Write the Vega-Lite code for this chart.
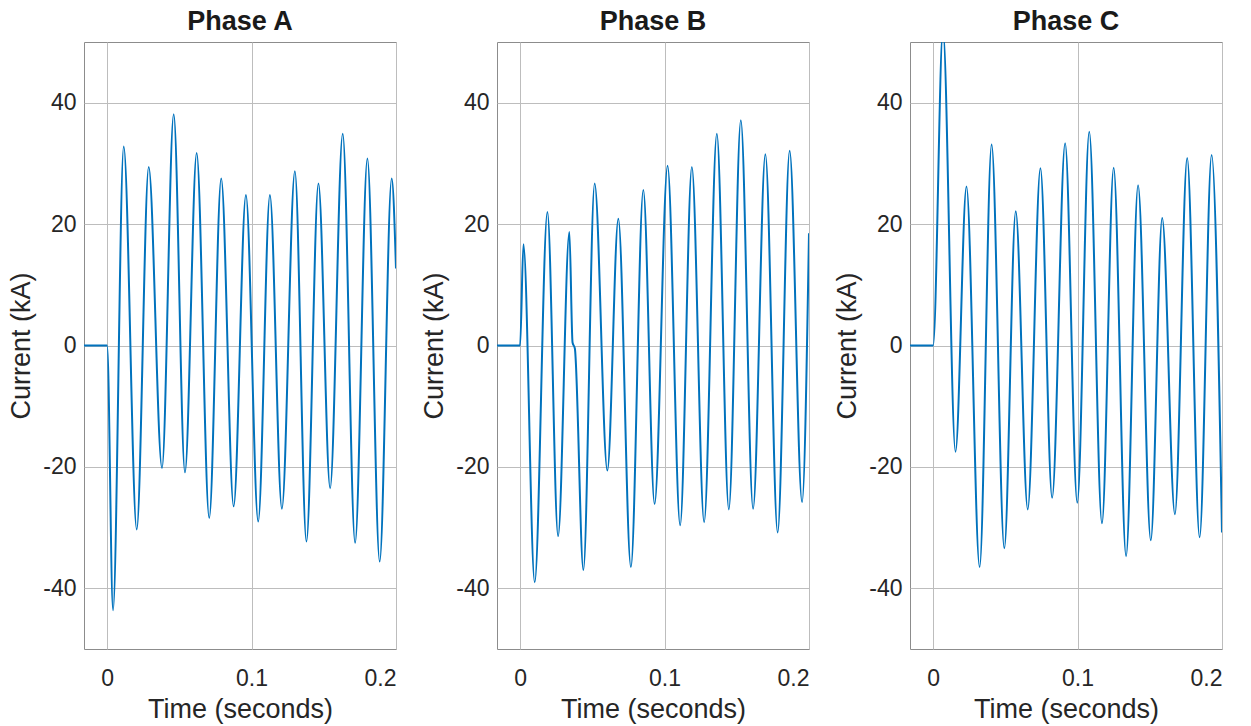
{
  "$schema": "https://vega.github.io/schema/vega-lite/v6.json",
  "background": "white",
  "padding": {"left": 7, "top": 7, "right": 10, "bottom": 5},
  "bounds": "flush",
  "spacing": 101,
  "config": {
    "font": "Liberation Sans",
    "view": {"stroke": "#8c8c8c", "strokeWidth": 1},
    "axis": {
      "grid": true, "gridColor": "#bdbdbd", "gridWidth": 1,
      "domain": false, "ticks": false,
      "labelFontSize": 23, "labelColor": "#262626", "labelFont": "Liberation Sans",
      "titleFontSize": 27, "titleColor": "#262626", "titleFont": "Liberation Sans", "titleFontWeight": "normal"
    },
    "title": {"fontSize": 27, "fontWeight": "bold", "color": "#1a1a1a", "font": "Liberation Sans", "anchor": "middle", "offset": 6}
  },
  "datasets": {
    "currents": [
      {"phase": "A", "t": -0.016, "i": 0}, {"phase": "A", "t": 0.0, "i": 0},
      {"phase": "A", "t": 0.0041, "i": -43.6}, {"phase": "A", "t": 0.0115, "i": 32.8},
      {"phase": "A", "t": 0.0205, "i": -30.3}, {"phase": "A", "t": 0.0288, "i": 29.4},
      {"phase": "A", "t": 0.038, "i": -20.2}, {"phase": "A", "t": 0.0461, "i": 38.1},
      {"phase": "A", "t": 0.0539, "i": -20.9}, {"phase": "A", "t": 0.062, "i": 31.7},
      {"phase": "A", "t": 0.0707, "i": -28.4}, {"phase": "A", "t": 0.079, "i": 27.5},
      {"phase": "A", "t": 0.0876, "i": -26.5}, {"phase": "A", "t": 0.0961, "i": 24.8},
      {"phase": "A", "t": 0.1046, "i": -29.0}, {"phase": "A", "t": 0.1127, "i": 24.8},
      {"phase": "A", "t": 0.121, "i": -26.9}, {"phase": "A", "t": 0.13, "i": 28.7},
      {"phase": "A", "t": 0.138, "i": -32.3}, {"phase": "A", "t": 0.1463, "i": 26.7},
      {"phase": "A", "t": 0.1544, "i": -23.5}, {"phase": "A", "t": 0.1631, "i": 34.9},
      {"phase": "A", "t": 0.1717, "i": -32.5}, {"phase": "A", "t": 0.1802, "i": 30.8},
      {"phase": "A", "t": 0.1887, "i": -35.6}, {"phase": "A", "t": 0.197, "i": 27.5},
      {"phase": "A", "t": 0.2, "i": 12.7},

      {"phase": "B", "t": -0.016, "i": 0}, {"phase": "B", "t": 0.0, "i": 0},
      {"phase": "B", "t": 0.0023, "i": 16.7}, {"phase": "B", "t": 0.0101, "i": -39.0},
      {"phase": "B", "t": 0.0189, "i": 22.0}, {"phase": "B", "t": 0.0263, "i": -31.4},
      {"phase": "B", "t": 0.0341, "i": 18.7}, {"phase": "B", "t": 0.0363, "i": 0.5},
      {"phase": "B", "t": 0.0379, "i": -0.5}, {"phase": "B", "t": 0.0438, "i": -37.0},
      {"phase": "B", "t": 0.0516, "i": 26.7}, {"phase": "B", "t": 0.0604, "i": -20.6},
      {"phase": "B", "t": 0.068, "i": 20.9}, {"phase": "B", "t": 0.0767, "i": -36.5},
      {"phase": "B", "t": 0.0853, "i": 25.6}, {"phase": "B", "t": 0.0931, "i": -26.1},
      {"phase": "B", "t": 0.1021, "i": 29.6}, {"phase": "B", "t": 0.1108, "i": -29.6},
      {"phase": "B", "t": 0.1189, "i": 29.4}, {"phase": "B", "t": 0.1274, "i": -29.1},
      {"phase": "B", "t": 0.1362, "i": 34.9}, {"phase": "B", "t": 0.1445, "i": -27.0},
      {"phase": "B", "t": 0.1528, "i": 37.1}, {"phase": "B", "t": 0.1613, "i": -26.9},
      {"phase": "B", "t": 0.1698, "i": 31.5}, {"phase": "B", "t": 0.1783, "i": -30.8},
      {"phase": "B", "t": 0.1866, "i": 32.1}, {"phase": "B", "t": 0.1952, "i": -25.8},
      {"phase": "B", "t": 0.2, "i": 18.5},

      {"phase": "C", "t": -0.016, "i": 0}, {"phase": "C", "t": 0.0, "i": 0},
      {"phase": "C", "t": 0.0068, "i": 52}, {"phase": "C", "t": 0.0155, "i": -17.5},
      {"phase": "C", "t": 0.0231, "i": 26.2}, {"phase": "C", "t": 0.0322, "i": -36.5},
      {"phase": "C", "t": 0.0405, "i": 33.1}, {"phase": "C", "t": 0.0493, "i": -33.4},
      {"phase": "C", "t": 0.0572, "i": 22.1}, {"phase": "C", "t": 0.0655, "i": -27.0},
      {"phase": "C", "t": 0.0743, "i": 29.2}, {"phase": "C", "t": 0.0824, "i": -25.1},
      {"phase": "C", "t": 0.0914, "i": 33.3}, {"phase": "C", "t": 0.0998, "i": -25.9},
      {"phase": "C", "t": 0.1081, "i": 35.2}, {"phase": "C", "t": 0.1169, "i": -29.3},
      {"phase": "C", "t": 0.125, "i": 29.3}, {"phase": "C", "t": 0.1336, "i": -34.7},
      {"phase": "C", "t": 0.1419, "i": 26.4}, {"phase": "C", "t": 0.1507, "i": -32.1},
      {"phase": "C", "t": 0.1586, "i": 21.0}, {"phase": "C", "t": 0.1674, "i": -27.8},
      {"phase": "C", "t": 0.1759, "i": 30.9}, {"phase": "C", "t": 0.1845, "i": -31.6},
      {"phase": "C", "t": 0.1928, "i": 31.4}, {"phase": "C", "t": 0.2, "i": -30.8}
    ]
  },
  "data": {"name": "currents"},
  "hconcat": [
    {
      "title": "Phase A",
      "width": 312, "height": 607,
      "transform": [{"filter": "datum.phase === 'A'"}],
      "mark": {"type": "line", "interpolate": "monotone", "color": "#0072BD", "strokeWidth": 2, "clip": true},
      "encoding": {
        "x": {"field": "t", "type": "quantitative", "title": "Time (seconds)",
              "scale": {"domain": [-0.016, 0.2], "nice": false, "zero": false},
              "axis": {"values": [0, 0.1, 0.2], "format": "~g", "labelPadding": 18, "titlePadding": 6}},
        "y": {"field": "i", "type": "quantitative", "title": "Current (kA)",
              "scale": {"domain": [-50, 50], "nice": false},
              "axis": {"values": [-40, -20, 0, 20, 40], "labelExpr": "'' + datum.value", "labelPadding": 8, "titlePadding": 7}}
      }
    },
    {
      "title": "Phase B",
      "width": 312, "height": 607,
      "transform": [{"filter": "datum.phase === 'B'"}],
      "mark": {"type": "line", "interpolate": "monotone", "color": "#0072BD", "strokeWidth": 2, "clip": true},
      "encoding": {
        "x": {"field": "t", "type": "quantitative", "title": "Time (seconds)",
              "scale": {"domain": [-0.016, 0.2], "nice": false, "zero": false},
              "axis": {"values": [0, 0.1, 0.2], "format": "~g", "labelPadding": 18, "titlePadding": 6}},
        "y": {"field": "i", "type": "quantitative", "title": "Current (kA)",
              "scale": {"domain": [-50, 50], "nice": false},
              "axis": {"values": [-40, -20, 0, 20, 40], "labelExpr": "'' + datum.value", "labelPadding": 8, "titlePadding": 7}}
      }
    },
    {
      "title": "Phase C",
      "width": 312, "height": 607,
      "transform": [{"filter": "datum.phase === 'C'"}],
      "mark": {"type": "line", "interpolate": "monotone", "color": "#0072BD", "strokeWidth": 2, "clip": true},
      "encoding": {
        "x": {"field": "t", "type": "quantitative", "title": "Time (seconds)",
              "scale": {"domain": [-0.016, 0.2], "nice": false, "zero": false},
              "axis": {"values": [0, 0.1, 0.2], "format": "~g", "labelPadding": 18, "titlePadding": 6}},
        "y": {"field": "i", "type": "quantitative", "title": "Current (kA)",
              "scale": {"domain": [-50, 50], "nice": false},
              "axis": {"values": [-40, -20, 0, 20, 40], "labelExpr": "'' + datum.value", "labelPadding": 8, "titlePadding": 7}}
      }
    }
  ]
}
